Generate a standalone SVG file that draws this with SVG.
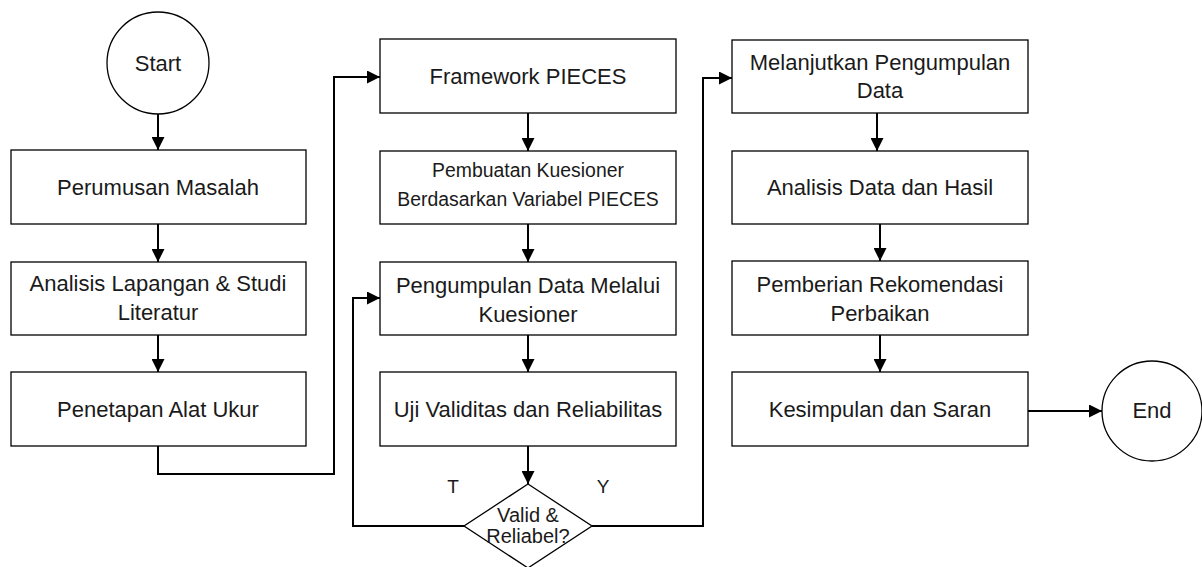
<svg xmlns="http://www.w3.org/2000/svg" width="1202" height="567" viewBox="0 0 1202 567">
<style>
.box{fill:#fff;stroke:#000;stroke-width:1.3}
.t{font-family:"Liberation Sans",Arial,sans-serif;font-size:22px;fill:#1a1a1a;text-anchor:middle}
.s{font-size:19.4px}
.d{font-size:20px}
.lbl{font-family:"Liberation Sans",Arial,sans-serif;font-size:19px;fill:#1a1a1a;text-anchor:middle}
.c{fill:none;stroke:#000;stroke-width:2}
</style>
<defs>
<marker id="ah" viewBox="0 0 12 12" refX="12" refY="6" markerWidth="13" markerHeight="13" markerUnits="userSpaceOnUse" orient="auto">
<path d="M0,0 L12,6 L0,12 Z" fill="#000"/>
</marker>
</defs>
<rect width="1202" height="567" fill="#fff"/>
<g id="connectors">
<path class="c" d="M158,113 V150" marker-end="url(#ah)"/>
<path class="c" d="M158,224 V262" marker-end="url(#ah)"/>
<path class="c" d="M158,335 V372" marker-end="url(#ah)"/>
<path class="c" d="M158,446 V474 H334 V77 H380" marker-end="url(#ah)"/>
<path class="c" d="M528,113 V151" marker-end="url(#ah)"/>
<path class="c" d="M528,224 V262" marker-end="url(#ah)"/>
<path class="c" d="M528,335 V372" marker-end="url(#ah)"/>
<path class="c" d="M528,446 V484" marker-end="url(#ah)"/>
<path class="c" d="M464,526 H353 V298 H380" marker-end="url(#ah)"/>
<path class="c" d="M592,526 H703 V78 H732" marker-end="url(#ah)"/>
<path class="c" d="M877,113 V151" marker-end="url(#ah)"/>
<path class="c" d="M880,224 V261" marker-end="url(#ah)"/>
<path class="c" d="M880,335 V372" marker-end="url(#ah)"/>
<path class="c" d="M1028,411 H1102" marker-end="url(#ah)"/>
</g>
<g id="start"><circle class="box" cx="158" cy="63" r="51"/><text class="t" x="158" y="71">Start</text></g>
<g id="n1"><rect class="box" x="11" y="150" width="295" height="74"/><text class="t" x="158" y="195">Perumusan Masalah</text></g>
<g id="n2"><rect class="box" x="11" y="262" width="295" height="73"/><text class="t" x="158" y="291">Analisis Lapangan &amp; Studi</text><text class="t" x="158" y="320">Literatur</text></g>
<g id="n3"><rect class="box" x="11" y="372" width="295" height="74"/><text class="t" x="158" y="417">Penetapan Alat Ukur</text></g>
<g id="n4"><rect class="box" x="380" y="39" width="296" height="74"/><text class="t" x="528" y="84">Framework PIECES</text></g>
<g id="n5"><rect class="box" x="380" y="151" width="296" height="73"/><text class="t s" x="528" y="177">Pembuatan Kuesioner</text><text class="t s" x="528" y="206">Berdasarkan Variabel PIECES</text></g>
<g id="n6"><rect class="box" x="380" y="262" width="296" height="73"/><text class="t" x="528" y="293">Pengumpulan Data Melalui</text><text class="t" x="528" y="322">Kuesioner</text></g>
<g id="n7"><rect class="box" x="380" y="372" width="296" height="74"/><text class="t" x="528" y="417">Uji Validitas dan Reliabilitas</text></g>
<g id="dec"><path class="box" d="M528,484 L592,526 L528,568 L464,526 Z"/><text class="t d" x="528" y="522">Valid &amp;</text><text class="t d" x="528" y="543">Reliabel?</text></g>
<g id="lblT"><text class="lbl" x="453" y="493">T</text></g>
<g id="lblY"><text class="lbl" x="603" y="493">Y</text></g>
<g id="n8"><rect class="box" x="732" y="40" width="296" height="73"/><text class="t" x="880" y="70">Melanjutkan Pengumpulan</text><text class="t" x="880" y="98">Data</text></g>
<g id="n9"><rect class="box" x="732" y="151" width="296" height="73"/><text class="t" x="880" y="195">Analisis Data dan Hasil</text></g>
<g id="n10"><rect class="box" x="732" y="261" width="296" height="74"/><text class="t" x="880" y="292">Pemberian Rekomendasi</text><text class="t" x="880" y="321">Perbaikan</text></g>
<g id="n11"><rect class="box" x="732" y="372" width="296" height="74"/><text class="t" x="880" y="417">Kesimpulan dan Saran</text></g>
<g id="end"><circle class="box" cx="1152" cy="411" r="50"/><text class="t" x="1152" y="418">End</text></g>
</svg>
